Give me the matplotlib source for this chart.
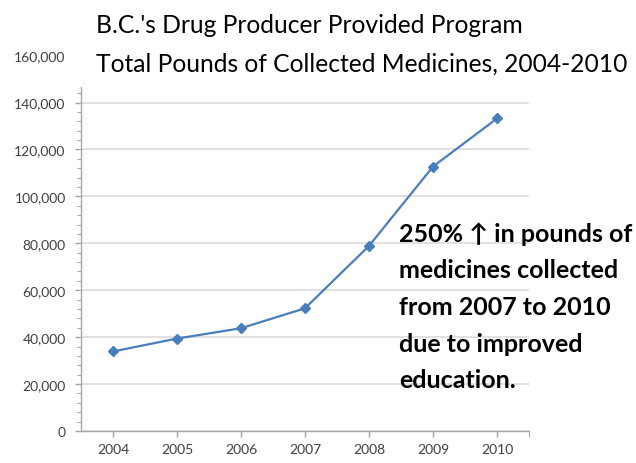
import matplotlib
matplotlib.use('Agg')
import matplotlib.pyplot as plt
from matplotlib.ticker import FuncFormatter, MultipleLocator, FixedLocator
from matplotlib.patches import Rectangle

# data
years = ['2004', '2005', '2006', '2007', '2008', '2009', '2010']
pounds = [33900, 39400, 43800, 52300, 78900, 112700, 133200]
yticks = [0, 20000, 40000, 60000, 80000, 100000, 120000, 140000, 160000]

title_lines = ["B.C.'s Drug Producer Provided Program",
               "Total Pounds of Collected Medicines, 2004-2010"]
note_lines = ["250% \u2191 in pounds of", "medicines collected",
              "from 2007 to 2010", "due to improved", "education."]

plt.rcParams['font.family'] = ['Lato', 'DejaVu Sans']

fig = plt.figure(figsize=(6.36, 4.64), dpi=100)
ax = fig.add_axes([81 / 636, 32 / 464, 448 / 636, 375.4 / 464])

x = list(range(len(years)))
ax.plot(x, pounds, color='#4a7ebb', lw=1.6, marker='D', ms=5.5, zorder=4)

ax.set_xlim(-0.5, 6.5)
ax.set_ylim(0, 160000)
ax.set_xticks(x)
ax.set_xticklabels(years)
ax.xaxis.set_minor_locator(FixedLocator([6.5]))
ax.set_yticks(yticks)
ax.yaxis.set_minor_locator(MultipleLocator(4000))
ax.yaxis.set_major_formatter(FuncFormatter(lambda v, p: f'{int(v):,}'))

ax.grid(axis='y', color='#d9d9d9', lw=1.1)
ax.set_axisbelow(True)
for s in ['top', 'right']:
    ax.spines[s].set_visible(False)
for s in ['left', 'bottom']:
    ax.spines[s].set_color('#a6a6a6')
    ax.spines[s].set_linewidth(1.0)

ax.tick_params(axis='both', which='major', length=4, width=1, color='#a6a6a6',
               labelsize=10, labelcolor='#404040')
ax.tick_params(axis='y', which='major', pad=7)
ax.tick_params(axis='x', which='major', pad=5)
ax.tick_params(axis='both', which='minor', length=3, width=0.8, color='#a6a6a6')
ax.tick_params(axis='x', which='minor', length=4)

# the title box hides the top of the plot area
ax.add_patch(Rectangle((-0.66, 146500), 7.3, 16000, facecolor='white',
                       edgecolor='none', clip_on=False, zorder=5))

for i, line in enumerate(title_lines):
    fig.text(96 / 636, 1 - (33 + 39 * i) / 464, line, fontsize=17.7,
             va='baseline', ha='left', color='black', zorder=6)

for i, line in enumerate(note_lines):
    fig.text(399 / 636, 1 - (242 + 36.5 * i) / 464, line, fontsize=18,
             fontweight='bold', ha='left', va='baseline', color='black', zorder=6)

fig.savefig('out.png', dpi=100)
